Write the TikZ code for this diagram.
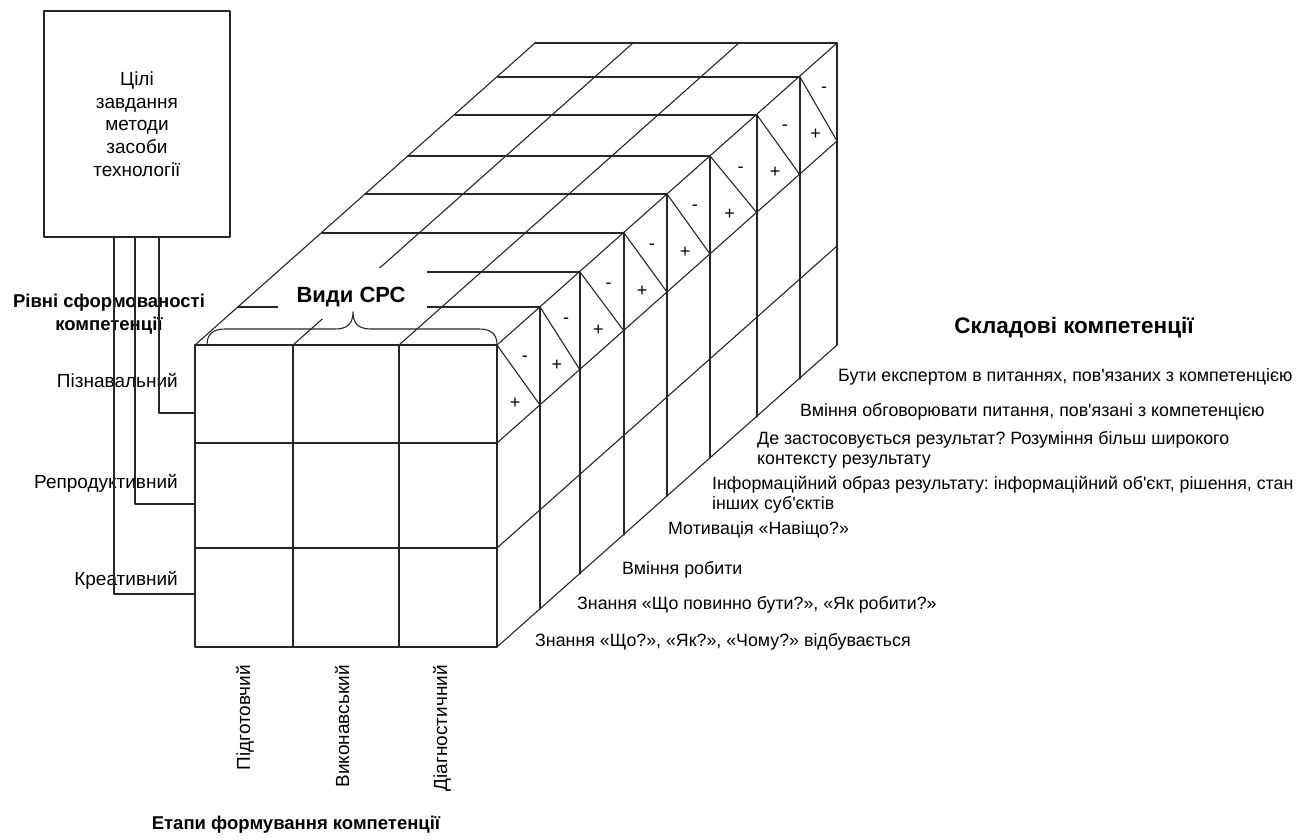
\documentclass[tikz,border=0pt]{standalone}
\usepackage{fontspec}
\newfontfamily\lsans{Liberation Sans}
\frenchspacing
\begin{document}
\begin{tikzpicture}[x=1pt,y=-1pt,
  line join=round, line cap=round,
  every node/.style={inner sep=0pt, text=black},
  edge/.style={draw=black!85, line width=1.1pt},
  lvl/.style={font=\lsans\fontsize{19}{22}\selectfont, anchor=base east},
  stage/.style={font=\lsans\fontsize{19}{22}\selectfont, rotate=90, anchor=mid east},
  comp/.style={font=\lsans\fontsize{17.8}{20}\selectfont, anchor=base west, align=left},
  comptwo/.style={font=\lsans\fontsize{17.8}{20}\selectfont, anchor=north west, align=left},
  head/.style={font=\lsans\bfseries\fontsize{18.5}{23}\selectfont, align=center},
  sign/.style={font=\lsans\fontsize{18}{18}\selectfont, anchor=base},
]
\useasboundingbox (0,0) rectangle (1301,840);

% ---- box with goals, methods, tools ----
\node[edge, draw, minimum width=186pt, minimum height=226pt, align=center,
      font=\lsans\fontsize{19}{22.75}\selectfont] (goals) at (137,124)
  {Цілі\\завдання\\методи\\засоби\\технології};

% ---- top face ----
\foreach \x/\y in {540/307,580/272,624/233,667/194,710/156,757/115,800/77,837/43}
  \draw[edge] (\x-302,\y) -- (\x,\y);
\foreach \x in {293,399,497}
  \draw[edge] (\x,345) -- (\x+340,43);

% gap behind the "Види СРС" label
\fill[white] (278,268) rectangle (427,319);
\draw[edge] (195,345) -- (535,43);

% ---- front face ----
\draw[edge] (195,345) rectangle (497,647);
\draw[edge] (293,345) -- (293,647);
\draw[edge] (399,345) -- (399,647);
\draw[edge] (195,443) -- (497,443);
\draw[edge] (195,548) -- (497,548);

% ---- right face ----
\foreach \x/\y in {540/307,580/272,624/233,667/194,710/156,757/115,800/77,837/43}
  \draw[edge] (\x,\y) -- (\x,\y+302);
\foreach \y in {443,548,647}
  \draw[edge] (497,\y) -- (837,\y-302);
\foreach \xa/\ya/\xb/\yb in {497/345/540/307, 540/307/580/272, 580/272/624/233,
    624/233/667/194, 667/194/710/156, 710/156/757/115, 757/115/800/77, 800/77/837/43}{
  \draw[edge] (\xa,\ya) -- (\xb,\yb+98);
  \node[sign] (m\xa) at ({\xa+0.65*(\xb-\xa)},\ya+16) {-};
  \node[sign] (p\xa) at ({\xa+0.42*(\xb-\xa)},\ya+63) {+};
}

% ---- brace and its label ----
\draw[edge] (207,345) .. controls (207,334) and (213,329) .. (225,329)
  -- (335,329) .. controls (347,329) and (353,324) .. (353,312)
  .. controls (353,324) and (359,329) .. (371,329)
  -- (479,329) .. controls (491,329) and (497,334) .. (497,345);
\node[font=\lsans\bfseries\fontsize{22}{26}\selectfont, anchor=base] (vids) at (351,302) {Види СРС};

% ---- levels ----
\node[head, anchor=north] (levels) at (109,294) {Рівні сформованості\\компетенції};
\node[lvl] (l1) at (178,387) {Пізнавальний};
\node[lvl] (l2) at (178,488) {Репродуктивний};
\node[lvl] (l3) at (178,585) {Креативний};

\coordinate (inP) at (195,413);
\coordinate (inR) at (195,504);
\coordinate (inK) at (195,594);
\draw[edge] ([xshift=22pt]goals.south) |- (inP);
\draw[edge] ([xshift=-2pt]goals.south) |- (inR);
\draw[edge] ([xshift=-23pt]goals.south) |- (inK);

% ---- stages ----
\node[stage] (s1) at (248,665) {Підготовчий};
\node[stage] (s2) at (347,665) {Виконавський};
\node[stage] (s3) at (445,665) {Діагностичний};
\node[head, anchor=base] (stages) at (296,829) {Етапи формування компетенції};

% ---- components ----
\node[head, font=\lsans\bfseries\fontsize{22.5}{26}\selectfont, anchor=base] (compsH) at (1074,333) {Складові компетенції};
\node[comp] (c8) at (838,381) {Бути експертом в питаннях, пов'язаних з компетенцією};
\node[comp] (c7) at (800,416) {Вміння обговорювати питання, пов'язані з компетенцією};
\node[comptwo] (c6) at (757,431.5) {Де застосовується результат? Розуміння більш широкого\\контексту результату};
\node[comptwo] (c5) at (712,476.5) {Інформаційний образ результату: інформаційний об'єкт, рішення, стан\\інших суб'єктів};
\node[comp] (c4) at (668,534) {Мотивація «Навіщо?»};
\node[comp] (c3) at (622,574) {Вміння робити};
\node[comp] (c2) at (577,609) {Знання «Що повинно бути?», «Як робити?»};
\node[comp] (c1) at (535,646) {Знання «Що?», «Як?», «Чому?» відбувається};
\end{tikzpicture}
\end{document}
